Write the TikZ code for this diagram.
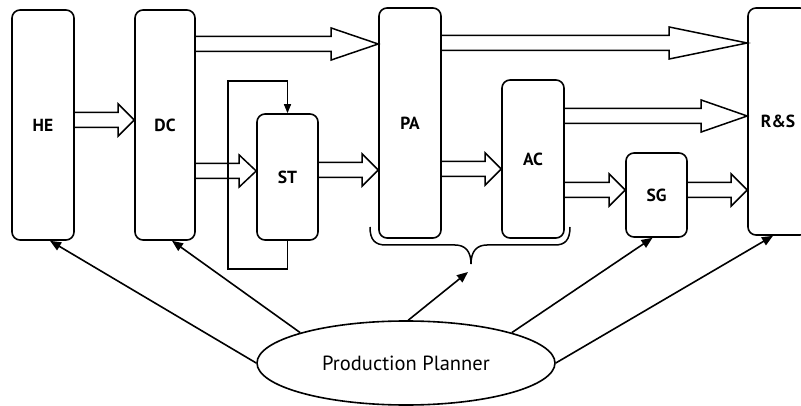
\documentclass[tikz,border=0pt]{standalone}
\usepackage{fontspec}
\setmainfont{PT Sans}
\usetikzlibrary{arrows.meta,calc,shapes.geometric}
\newcommand{\harrow}[4]{% source, target, y centre, head length
  \coordinate (hy) at (0,#3);
  \coordinate (hs) at (#1.east |- hy);
  \coordinate (ht) at (#2.west |- hy);
  \draw[hollow] ($(hs)+(0,-7.5)$) -- ($(ht)+(-#4,-7.5)$) -- ($(ht)+(-#4,-16)$)
    -- (ht) -- ($(ht)+(-#4,16)$) -- ($(ht)+(-#4,7.5)$) -- ($(hs)+(0,7.5)$);
}
\begin{document}
\begin{tikzpicture}[x=1pt,y=-1pt,
  box/.style={draw, line width=1.6pt, rounded corners=8pt, inner sep=0pt,
    font=\bfseries\fontsize{17.5}{17.5}\selectfont},
  hollow/.style={draw, line width=1.5pt, line join=miter},
  ctrl/.style={draw, line width=1.6pt, -{Triangle[length=11pt,width=9pt]}},
  fb/.style={draw, line width=1.4pt, -{Triangle[length=9pt,width=7pt]}}]
\clip (0,0) rectangle (801,406);
\fill[white] (0,0) rectangle (801,406);
% boxes
\node[box, minimum width=62pt, minimum height=230pt] (HE) at (43,125) {HE};
\node[box, minimum width=60pt, minimum height=230pt] (DC) at (165,125) {DC};
\node[box, minimum width=61pt, minimum height=126pt] (ST) at (287.5,177) {ST};
\node[box, minimum width=62pt, minimum height=230pt] (PA) at (410,123) {PA};
\node[box, minimum width=62pt, minimum height=158pt] (AC) at (533,159) {AC};
\node[box, minimum width=61pt, minimum height=84pt] (SG) at (656.5,195) {SG};
\node[box, minimum width=60pt, minimum height=227pt] (RS) at (778,121.5) {R\&S};
\node[draw, ellipse, line width=1.6pt, minimum width=298pt, minimum height=84pt,
  inner sep=0pt, font=\fontsize{20.5}{20.5}\selectfont] (PP) at (406,363) {Production Planner};
% hollow flow arrows
\harrow{HE}{DC}{120}{16}
\harrow{DC}{PA}{44}{47}
\harrow{DC}{ST}{171}{17}
\harrow{ST}{PA}{170}{16}
\harrow{PA}{RS}{43}{78}
\harrow{PA}{AC}{169}{16}
\harrow{AC}{RS}{116}{46}
\harrow{AC}{SG}{190}{16}
\harrow{SG}{RS}{190}{16}
% feedback loop around ST
\coordinate (fbL) at (228,269);
\coordinate (fbT) at (228,81);
\draw[fb] (ST.south) |- (fbL) -- (fbT) -| (ST.north);
% brace under PA and AC
\coordinate (bracetip) at (471,264);
\draw[line width=1.5pt] (370,227) .. controls (370,240) and (375,245) .. (386,245)
  -- (455,245) .. controls (465,245) and (471,251) .. (bracetip)
  .. controls (471,251) and (477,245) .. (487,245)
  -- (555,245) .. controls (565,245) and (570,240) .. (570,227);
% control arrows from the planner
\draw[ctrl] (PP.180) -- ($(HE.south)+(7,0)$);
\draw[ctrl] (PP.164) -- ($(DC.south)+(7,0)$);
\draw[ctrl] (PP.87) -- ($(bracetip)+(-3,8)$);
\draw[ctrl] (PP.16) -- ($(SG.south)+(-4,0)$);
\draw[ctrl] (PP.0) -- ($(RS.south)+(-5,0)$);
\end{tikzpicture}
\end{document}
